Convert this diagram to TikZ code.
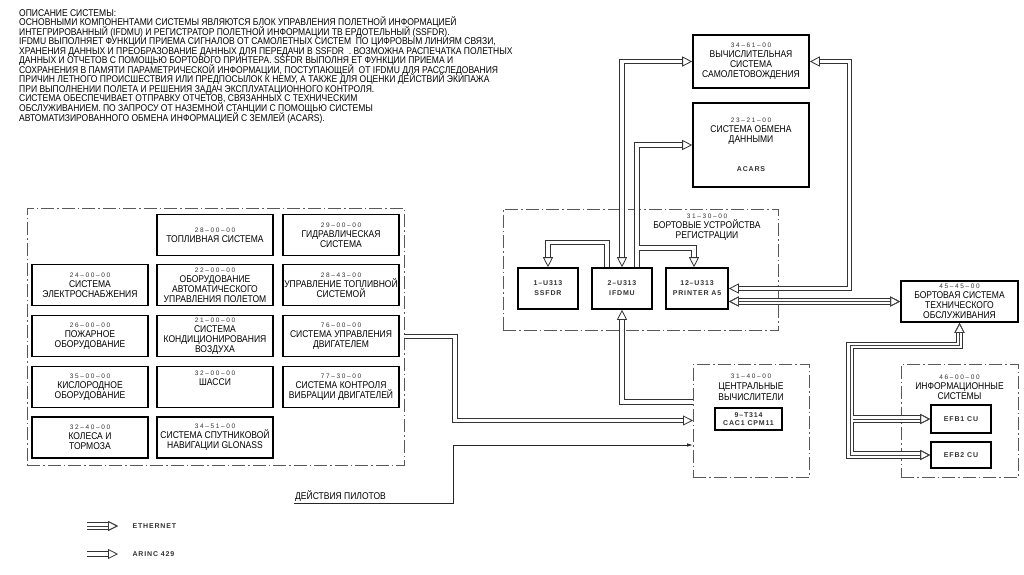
\documentclass[tikz,border=0pt]{standalone}
\usepackage{fontspec}
\setmainfont{Liberation Sans}[FakeStretch=0.87]
\newfontfamily\codefont{Liberation Sans}[LetterSpace=25]
\newfontfamily\devfont{Liberation Sans}[LetterSpace=12]
\usetikzlibrary{arrows.meta}
\newcommand\cd[1]{{\codefont\fontsize{6.5}{7}\selectfont\color{black!80}#1}}
\newcommand\devtxt{\devfont\bfseries\fontsize{7}{10}\selectfont\color{black!80}}
\tikzset{
    dashfr/.style={draw=black!65, line width=0.7pt, dash pattern=on 13pt off 3pt on 1.5pt off 3pt, inner sep=0pt, outer sep=0pt},
    sys/.style={draw=black, line width=1.6pt, minimum width=116pt, minimum height=41pt, inner sep=1pt, align=center},
    dev/.style={draw=black, line width=1.6pt, minimum width=60pt, minimum height=41pt, inner sep=1pt, align=center, font=\devtxt},
    ttl/.style={anchor=north, align=center, inner sep=0pt},
    arinc/.style={draw=black!80, line width=1.05pt, double, double distance=3.2pt},
    eth/.style={draw=black!75, line width=0.9pt, preaction={draw=black!80, line width=1.05pt, double, double distance=5.2pt}},
    >={Triangle[open, length=10pt, width=10pt, line width=0.8pt]}
}
\begin{document}
\lineskiplimit=-20pt
\begin{tikzpicture}[x=1pt, y=-1pt, font=\fontsize{9.8}{10}\selectfont]
    \useasboundingbox (0,0) rectangle (1024,574);
    \fill[white] (0,0) rectangle (1024,574);

    \node[anchor=north west, align=left, inner sep=0pt, font=\fontsize{9.8}{9.55}\selectfont] (descr) at (19,9) {ОПИСАНИЕ СИСТЕМЫ:\\
        ОСНОВНЫМИ КОМПОНЕНТАМИ СИСТЕМЫ ЯВЛЯЮТСЯ БЛОК УПРАВЛЕНИЯ ПОЛЕТНОЙ ИНФОРМАЦИЕЙ\\
        ИНТЕГРИРОВАННЫЙ (IFDMU) И РЕГИСТРАТОР ПОЛЕТНОЙ ИНФОРМАЦИИ ТВ ЕРДОТЕЛЬНЫЙ (SSFDR).\\
        IFDMU ВЫПОЛНЯЕТ ФУНКЦИИ ПРИЕМА СИГНАЛОВ ОТ САМОЛЕТНЫХ СИСТЕМ \ ПО ЦИФРОВЫМ ЛИНИЯМ СВЯЗИ,\\
        ХРАНЕНИЯ ДАННЫХ И ПРЕОБРАЗОВАНИЕ ДАННЫХ ДЛЯ ПЕРЕДАЧИ В SSFDR \ . ВОЗМОЖНА РАСПЕЧАТКА ПОЛЕТНЫХ\\
        ДАННЫХ И ОТЧЕТОВ С ПОМОЩЬЮ БОРТОВОГО ПРИНТЕРА. SSFDR ВЫПОЛНЯ ЕТ ФУНКЦИИ ПРИЕМА И\\
        СОХРАНЕНИЯ В ПАМЯТИ ПАРАМЕТРИЧЕСКОЙ ИНФОРМАЦИИ, ПОСТУПАЮЩЕЙ \ ОТ IFDMU ДЛЯ РАССЛЕДОВАНИЯ\\
        ПРИЧИН ЛЕТНОГО ПРОИСШЕСТВИЯ ИЛИ ПРЕДПОСЫЛОК К НЕМУ, А ТАКЖЕ ДЛЯ ОЦЕНКИ ДЕЙСТВИЙ ЭКИПАЖА\\
        ПРИ ВЫПОЛНЕНИИ ПОЛЕТА И РЕШЕНИЯ ЗАДАЧ ЭКСПЛУАТАЦИОННОГО КОНТРОЛЯ.\\
        СИСТЕМА ОБЕСПЕЧИВАЕТ ОТПРАВКУ ОТЧЕТОВ, СВЯЗАННЫХ С ТЕХНИЧЕСКИМ\\
        ОБСЛУЖИВАНИЕМ. ПО ЗАПРОСУ ОТ НАЗЕМНОЙ СТАНЦИИ С ПОМОЩЬЮ СИСТЕМЫ\\
        АВТОМАТИЗИРОВАННОГО ОБМЕНА ИНФОРМАЦИЕЙ С ЗЕМЛЕЙ (ACARS).};

    \node[dashfr, minimum width=377pt, minimum height=257pt] (lpanel) at (215.5,336.5) {};
    \node[dashfr, minimum width=275pt, minimum height=121pt] (reg) at (640.5,269.5) {};
    \node[dashfr, minimum width=116pt, minimum height=113pt] (cc) at (751,420.5) {};
    \node[dashfr, minimum width=117pt, minimum height=113pt] (info) at (959.5,420.5) {};

    \node[sys] (fuel) at (215,235) {\cd{28–00–00}\\ТОПЛИВНАЯ СИСТЕМА};
    \node[sys] (hydr) at (341,235) {\cd{29–00–00}\\ГИДРАВЛИЧЕСКАЯ\\СИСТЕМА};
    \node[sys] (elec) at (90,285) {\cd{24–00–00}\\СИСТЕМА\\ЭЛЕКТРОСНАБЖЕНИЯ};
    \node[sys] (afcs) at (215,285) {\cd{22–00–00}\\ОБОРУДОВАНИЕ\\АВТОМАТИЧЕСКОГО\\УПРАВЛЕНИЯ ПОЛЕТОМ};
    \node[sys] (fuelctl) at (341,285) {\cd{28–43–00}\\УПРАВЛЕНИЕ ТОПЛИВНОЙ\\СИСТЕМОЙ};
    \node[sys] (fire) at (90,336) {\cd{26–00–00}\\ПОЖАРНОЕ\\ОБОРУДОВАНИЕ};
    \node[sys] (aircon) at (215,336) {\cd{21–00–00}\\СИСТЕМА\\КОНДИЦИОНИРОВАНИЯ\\ВОЗДУХА};
    \node[sys] (engctl) at (341,336) {\cd{76–00–00}\\СИСТЕМА УПРАВЛЕНИЯ\\ДВИГАТЕЛЕМ};
    \node[sys] (oxy) at (90,387) {\cd{35–00–00}\\КИСЛОРОДНОЕ\\ОБОРУДОВАНИЕ};
    \node[sys] (gear) at (215,387) {\cd{32–00–00}\\ШАССИ\\[8pt]\mbox{}};
    \node[sys] (vib) at (341,387) {\cd{77–30–00}\\СИСТЕМА КОНТРОЛЯ\\ВИБРАЦИИ ДВИГАТЕЛЕЙ};
    \node[sys] (wheels) at (90,437.5) {\cd{32–40–00}\\КОЛЕСА И\\ТОРМОЗА};
    \node[sys] (glonass) at (215,437.5) {\cd{34–51–00}\\СИСТЕМА СПУТНИКОВОЙ\\НАВИГАЦИИ GLONASS};

    \node[sys, minimum height=53pt] (nav) at (751,61.5) {\cd{34–61–00}\\ВЫЧИСЛИТЕЛЬНАЯ\\СИСТЕМА\\САМОЛЕТОВОЖДЕНИЯ};
    \node[sys, minimum height=84pt] (acars) at (751,145) {\cd{23–21–00}\\СИСТЕМА ОБМЕНА\\ДАННЫМИ\\[19pt]{\devtxt ACARS}};
    \node[sys, minimum width=117pt] (mnt) at (959.5,301.5) {\cd{45–45–00}\\БОРТОВАЯ СИСТЕМА\\ТЕХНИЧЕСКОГО\\ОБСЛУЖИВАНИЯ};

    \node[ttl] (regttl) at (707,213.5) {\cd{31–30–00}\\БОРТОВЫЕ УСТРОЙСТВА\\РЕГИСТРАЦИИ};
    \node[ttl] (ccttl) at (751,373.5) {\cd{31–40–00}\\[1pt]ЦЕНТРАЛЬНЫЕ\\[1pt]ВЫЧИСЛИТЕЛИ};
    \node[ttl] (infottl) at (959.5,375) {\cd{46–00–00}\\ИНФОРМАЦИОННЫЕ\\СИСТЕМЫ};

    \node[dev] (ssfdr) at (548,288.5) {1–U313\\SSFDR};
    \node[dev] (ifdmu) at (622,288.5) {2–U313\\IFDMU};
    \node[dev, minimum width=62pt] (printer) at (697,288.5) {12–U313\\PRINTER A5};
    \node[dev, minimum width=67pt, minimum height=22pt, font=\devtxt\fontsize{7}{7.5}\selectfont] (cpm) at (748.5,419) {9–T314\\CAC1 CPM11};
    \node[dev, minimum height=28pt] (efb1) at (961,419) {EFB1 CU};
    \node[dev, minimum height=26pt] (efb2) at (961,455) {EFB2 CU};

    \node[anchor=south west, inner sep=1pt] (pilot) at (294,503) {ДЕЙСТВИЯ ПИЛОТОВ};

    \draw[arinc,<->] (nav.west) -| (ifdmu.north);
    \draw[arinc,->] ([xshift=15pt]ifdmu.north) |- (acars.west);
    \coordinate (prtap) at (638.6,248);
    \draw[arinc,->] (prtap) -| ([xshift=-3pt]printer.north);
    \draw[arinc,->] ([xshift=-15pt]ifdmu.north) -- ++(0,-25) -| (ssfdr.north);
    \draw[arinc,->] ([yshift=18.5pt]cc.west) -| (ifdmu.south);
    \draw[arinc,->] (lpanel.east) -- ++(51,0) |- (cc.west);
    \draw[line width=0.8pt, black!85, -{Latex[length=6pt, width=3.5pt]}] (pilot.south west) -- ++(159,0) |- ([yshift=-24.5pt]cc.west);
    \draw[arinc,<->] (nav.east) -- ++(40,0) |- (printer.east);
    \draw[eth,<->] (printer.east |- mnt.west) -- (mnt.west);
    \draw[eth,<->] (mnt.south) -- ++(0,23) -| (850,455) -- (efb2.west);
    \coordinate (eftap) at (852.6,419);
    \draw[eth,->] (eftap) -- (efb1.west);

    \coordinate (ethS) at (87,526);
    \coordinate (ethE) at (118,526);
    \draw[eth,->] (ethS) -- (ethE);
    \node[anchor=west, font=\devtxt] (ethtxt) at (129,526) {ETHERNET};
    \coordinate (arS) at (87,554);
    \coordinate (arE) at (118,554);
    \draw[arinc,->] (arS) -- (arE);
    \node[anchor=west, font=\devtxt] (artxt) at (129,554) {ARINC 429};
\end{tikzpicture}
\end{document}
